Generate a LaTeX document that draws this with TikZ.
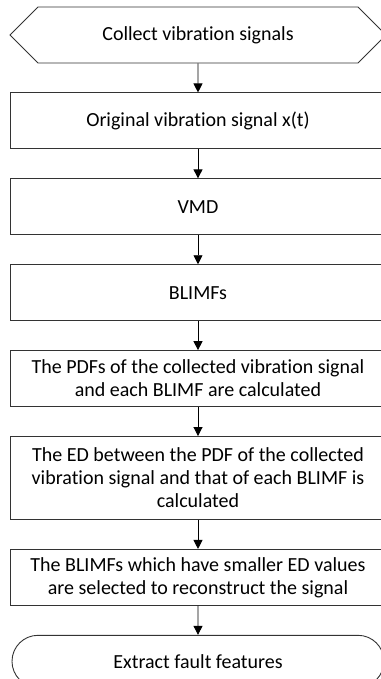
\documentclass[tikz,border=0pt]{standalone}
\usepackage{fontspec}
\setmainfont[Ligatures={NoCommon}]{Carlito}
\usetikzlibrary{arrows.meta, positioning, shapes.symbols, shapes.misc}

\begin{document}
\begin{tikzpicture}[x=1pt, y=1pt,
      node distance=29pt,
      box/.style={draw=black!80, line width=0.9pt, align=center, inner sep=2pt,
                  minimum width=376pt, minimum height=56pt,
                  font=\fontsize{20}{23}\selectfont},
      start/.style={box, shape=signal, signal to=west and east, signal pointer angle=90},
      stop/.style={box, shape=rounded rectangle, minimum height=52pt},
      flow/.style={-{Triangle[length=9pt, width=9pt]}, line width=0.9pt}]
    \useasboundingbox (0,0) rectangle (380,-679);
    \node[start] (collect) at (198,-35) {Collect vibration signals};
    \node[box, below=of collect] (orig) {Original vibration signal x(t)};
    \node[box, below=of orig] (vmd) {VMD};
    \node[box, below=of vmd] (blimf) {BLIMFs};
    % probability density functions and distances
    \node[box, below=of blimf] (pdf) {The PDFs of the collected vibration signal\\ and each BLIMF are calculated};
    \node[box, below=of pdf, minimum height=83pt] (ed) {The ED between the PDF of the collected\\ vibration signal and that of each BLIMF is\\ calculated};
    \node[box, below=of ed] (sel) {The BLIMFs which have smaller ED values\\ are selected to reconstruct the signal};
    \node[stop, below=of sel] (feat) {Extract fault features};
    % edges
    \draw[flow] (collect) -- (orig);
    \draw[flow] (orig) -- (vmd);
    \draw[flow] (vmd) -- (blimf);
    \draw[flow] (blimf) -- (pdf);
    \draw[flow] (pdf) -- (ed);
    \draw[flow] (ed) -- (sel);
    \draw[flow] (sel) -- (feat);
  \end{tikzpicture}
\end{document}
